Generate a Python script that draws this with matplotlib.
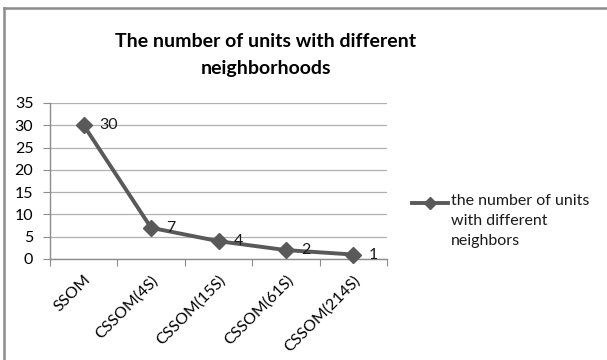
import matplotlib
matplotlib.use("Agg")
import matplotlib.pyplot as plt
from matplotlib.lines import Line2D

categories = ["SSOM", "CSSOM(4S)", "CSSOM(15S)", "CSSOM(61S)", "CSSOM(214S)"]
values = [30, 7, 4, 2, 1]
yticks = [0, 5, 10, 15, 20, 25, 30, 35]
series_name = "the number of units\nwith different\nneighbors"
title = "The number of units with different\nneighborhoods"

plt.rcParams['font.family'] = ['Lato', 'DejaVu Sans']
W, H = 607, 360
fig = plt.figure(figsize=(W / 100, H / 100), dpi=100)
fig.patch.set_facecolor("white")

# chart border (top and left visible)
fig.add_artist(Line2D([4 / W, 4 / W], [0, 1 - 8 / H], transform=fig.transFigure, color="#8c8c8c", lw=1.8))
fig.add_artist(Line2D([4 / W, 1], [1 - 8 / H, 1 - 8 / H], transform=fig.transFigure, color="#8c8c8c", lw=1.8))

ax = fig.add_axes([50 / W, 1 - 259 / H, (387 - 50) / W, (259 - 103) / H])
x = list(range(len(categories)))
col = "#595959"
fs = 11.5
ax.plot(x, values, color=col, lw=2.8, marker="D", markersize=8, zorder=3, clip_on=False)
for xi, v in zip(x, values):
    ax.annotate(str(v), (xi, v), xytext=(11, 0), textcoords="offset points",
                ha="left", va="center", fontsize=fs, color="#1a1a1a")

ax.set_xlim(-0.5, len(categories) - 0.5)
ax.set_ylim(0, 35)
ax.set_yticks(yticks)
ax.set_yticklabels([str(t) for t in yticks], fontsize=fs)
ax.yaxis.grid(True, color="#b0b0b0", lw=0.9)
ax.set_axisbelow(True)
ax.set_xticks([i - 0.5 for i in range(len(categories) + 1)], minor=False)
ax.set_xticklabels([])
ax.set_xticks(x, minor=True)
ax.set_xticklabels(categories, minor=True, rotation=45, ha="right", va="top",
                   rotation_mode="anchor", fontsize=fs)
ax.tick_params(axis="x", which="minor", length=0, pad=10)
ax.tick_params(axis="x", which="major", length=5, color="#8c8c8c", direction="out")
ax.tick_params(axis="y", length=5, color="#8c8c8c", direction="out", pad=7)
for s in ["top", "right"]:
    ax.spines[s].set_visible(False)
for s in ["left", "bottom"]:
    ax.spines[s].set_color("#8c8c8c")
    ax.spines[s].set_linewidth(1)

fig.text(266 / W, 1 - 55 / H, title, ha="center", va="center", fontsize=14,
         fontweight="bold", linespacing=1.75, color="black")

# legend
ly = 1 - 203 / H
fig.add_artist(Line2D([412 / W, 448 / W], [ly, ly], transform=fig.transFigure,
                      color=col, lw=2.8))
fig.add_artist(Line2D([430 / W], [ly], transform=fig.transFigure, color=col,
                      marker="D", markersize=6, lw=0))
fig.text(451 / W, 1 - 194 / H, series_name, ha="left", va="top", fontsize=fs,
         linespacing=1.55, color="#1a1a1a")

fig.savefig("out.png", dpi=100, facecolor="white")
